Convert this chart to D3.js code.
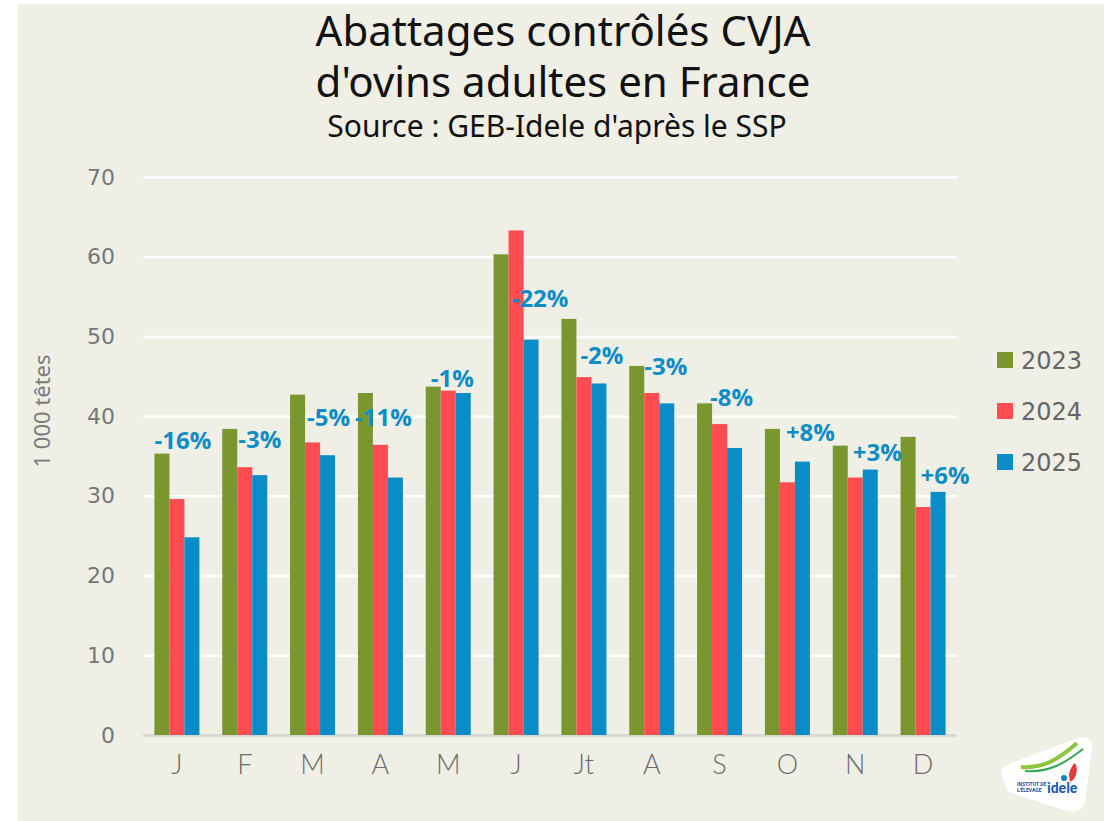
<!DOCTYPE html>
<html>
<head>
<meta charset="utf-8">
<script src="https://cdn.jsdelivr.net/npm/d3@7"></script>
<style>
  body { margin: 0; background: #ffffff; }
  svg { display: block; }
</style>
</head>
<body>
<div id="chart"></div>
<script>
// DATA (1 000 têtes)
////////////////////////////
var months = ["J", "F", "M", "A", "M", "J", "Jt", "A", "S", "O", "N", "D"];
var series = ["2023", "2024", "2025"];
var v2023 = [35.3, 38.4, 42.7, 42.9, 43.7, 60.3, 52.2, 46.3, 41.6, 38.4, 36.3, 37.4];
var v2024 = [29.6, 33.6, 36.7, 36.4, 43.2, 63.3, 44.9, 42.9, 39.0, 31.7, 32.3, 28.6];
var v2025 = [24.8, 32.6, 35.1, 32.3, 42.9, 49.6, 44.1, 41.6, 36.0, 34.3, 33.3, 30.5];
var evolLabels = ["-16%", "-3%", "-5%", "-11%", "-1%", "-22%", "-2%", "-3%", "-8%", "+8%", "+3%", "+6%"];
// level (in 1 000 têtes) where each evolution label sits
var evolLevel = [36.9, 37.1, 39.8, 39.8, 44.8, 54.8, 47.6, 46.3, 42.3, 38.0, 35.5, 32.6];
var yTicks = [0, 10, 20, 30, 40, 50, 60, 70];

// SETUP
////////////////////////////
var width = 1104,
    height = 821;

var colors = { "2023": "#7A962E", "2024": "#FF4C50", "2025": "#0A8DC6" };
var labelNudge = [-9, 0, 1, -12, -11, 9, 3, -1, -3, 8, 7, 7];  // hand placed in excel

var svg = d3.select("#chart").append("svg")
    .attr("width", width)
    .attr("height", height);

// panel background
svg.append("rect")
    .attr("x", 18).attr("y", 4)
    .attr("width", width - 18).attr("height", height - 4)
    .attr("fill", "#EFEFE6");

// titles
svg.append("text")
    .attr("x", 563).attr("y", 46)
    .attr("text-anchor", "middle")
    .style("font-family", "Noto Sans")
    .style("font-size", "42px")
    .attr("fill", "#111")
    .text("Abattages contrôlés CVJA");
svg.append("text")
    .attr("x", 563).attr("y", 97)
    .attr("text-anchor", "middle")
    .style("font-family", "Noto Sans")
    .style("font-size", "42px")
    .attr("fill", "#111")
    .text("d'ovins adultes en France");
svg.append("text")
    .attr("x", 557).attr("y", 137)
    .attr("text-anchor", "middle")
    .style("font-family", "Noto Sans")
    .style("font-size", "30px")
    .attr("fill", "#111")
    .text("Source : GEB-Idele d'après le SSP");

// SCALES
////////////////////////////
var x0 = d3.scaleBand()
    .domain(d3.range(months.length))
    .range([143, 957])
    .paddingInner(0.3366)
    .paddingOuter(0.1683);

var x1 = d3.scaleBand()
    .domain(series)
    .range([0, x0.bandwidth()]);

var y = d3.scaleLinear()
    .domain([0, 70])
    .range([735, 177]);

// grid + y axis
var yAxis = svg.append("g")
    .attr("transform", "translate(143,0)")
    .call(d3.axisLeft(y).tickValues(yTicks).tickSize(-814).tickPadding(28));
yAxis.select(".domain").remove();
yAxis.selectAll(".tick line")
    .attr("stroke", function(d) { return d === 0 ? "#D6D6D0" : "#ffffff"; })
    .attr("stroke-width", 2.5);
yAxis.selectAll(".tick text")
    .style("font-family", "DejaVu Sans")
    .style("font-size", "22px")
    .attr("fill", "#777");

svg.append("text")
    .attr("transform", "translate(50,411) rotate(-90)")
    .attr("text-anchor", "middle")
    .style("font-family", "Noto Sans")
    .style("font-size", "22px")
    .attr("fill", "#7a7a7a")
    .text("1 000 têtes");

// BARS
////////////////////////////
var rows = months.map(function(m, i) {
  return { i: i, vals: [
    { s: "2023", v: v2023[i] },
    { s: "2024", v: v2024[i] },
    { s: "2025", v: v2025[i] }
  ] };
});

var groups = svg.append("g").selectAll("g")
  .data(rows)
  .enter().append("g")
    .attr("transform", function(d) { return "translate(" + x0(d.i) + ",0)"; });

groups.selectAll("rect")
  .data(function(d) { return d.vals; })
  .enter().append("rect")
    .attr("x", function(d) { return x1(d.s); })
    .attr("y", function(d) { return y(d.v); })
    .attr("width", x1.bandwidth())
    .attr("height", function(d) { return y(0) - y(d.v); })
    .attr("fill", function(d) { return colors[d.s]; });

// x axis labels
var xAxis = svg.append("g")
    .attr("transform", "translate(0,735)")
    .call(d3.axisBottom(x0).tickSize(0).tickPadding(20)
      .tickFormat(function(i) { return months[i]; }));
xAxis.select(".domain").remove();
xAxis.selectAll(".tick text")
    .style("font-family", "Lato")
    .style("font-weight", "300")
    .style("font-size", "27px")
    .attr("fill", "#6a6a6a");

// evolution 2025/2024 labels
svg.append("g").selectAll("text")
  .data(evolLabels)
  .enter().append("text")
    .attr("x", function(d, i) { return x0(i) + x1("2025") + x1.bandwidth() / 2 + labelNudge[i]; })
    .attr("y", function(d, i) { return y(evolLevel[i]); })
    .attr("dy", "0.36em")
    .attr("text-anchor", "middle")
    .style("font-family", "Open Sans")
    .style("font-weight", "bold")
    .style("font-size", "24px")
    .attr("fill", "#0E8CC6")
    .text(function(d) { return d; });

// LEGEND
////////////////////////////
var legend = svg.append("g").selectAll("g")
  .data(series)
  .enter().append("g")
    .attr("transform", function(d, i) { return "translate(997," + (360 + i * 51) + ")"; });
legend.append("rect")
    .attr("x", 0).attr("y", -8)
    .attr("width", 16).attr("height", 16)
    .attr("fill", function(d) { return colors[d]; });
legend.append("text")
    .attr("x", 24).attr("dy", "0.36em")
    .style("font-family", "DejaVu Sans")
    .style("font-size", "24px")
    .attr("fill", "#666")
    .text(function(d) { return d; });

// LOGO (idele, bottom right)
////////////////////////////
var logo = svg.append("g").attr("transform", "translate(997,737)");
logo.append("path")
    .attr("d", "M6,42 C2,36 4,30 14,26 L78,2 C90,-2 96,2 95,12 L88,64 C86,74 80,76 70,74 L14,56 C8,54 8,46 6,42 Z")
    .attr("fill", "#ffffff");
logo.append("path")
    .attr("d", "M24,30 C46,32 62,22 80,6")
    .attr("fill", "none").attr("stroke", "#8CC63F").attr("stroke-width", 4);
logo.append("path")
    .attr("d", "M28,34 C52,36 68,26 86,12")
    .attr("fill", "none").attr("stroke", "#2FA84F").attr("stroke-width", 2);
logo.append("path")
    .attr("d", "M72,38 C73,31 76,28 78,26 C82,32 79,43 73,45 Z")
    .attr("fill", "#E63B3B");
logo.append("circle").attr("cx", 67).attr("cy", 41).attr("r", 3).attr("fill", "#1A7DC4");
logo.append("text")
    .attr("x", 20).attr("y", 49)
    .style("font-family", "Roboto").style("font-weight", "bold")
    .style("font-size", "5px").attr("fill", "#1F4E9C")
    .text("INSTITUT DE");
logo.append("text")
    .attr("x", 20).attr("y", 55)
    .style("font-family", "Roboto").style("font-weight", "bold")
    .style("font-size", "5px").attr("fill", "#1F4E9C")
    .text("L'ÉLEVAGE");
logo.append("text")
    .attr("x", 50).attr("y", 56)
    .style("font-family", "Roboto").style("font-weight", "bold")
    .style("font-size", "14px").attr("fill", "#1F5FB0")
    .text("idele");
</script>
</body>
</html>
